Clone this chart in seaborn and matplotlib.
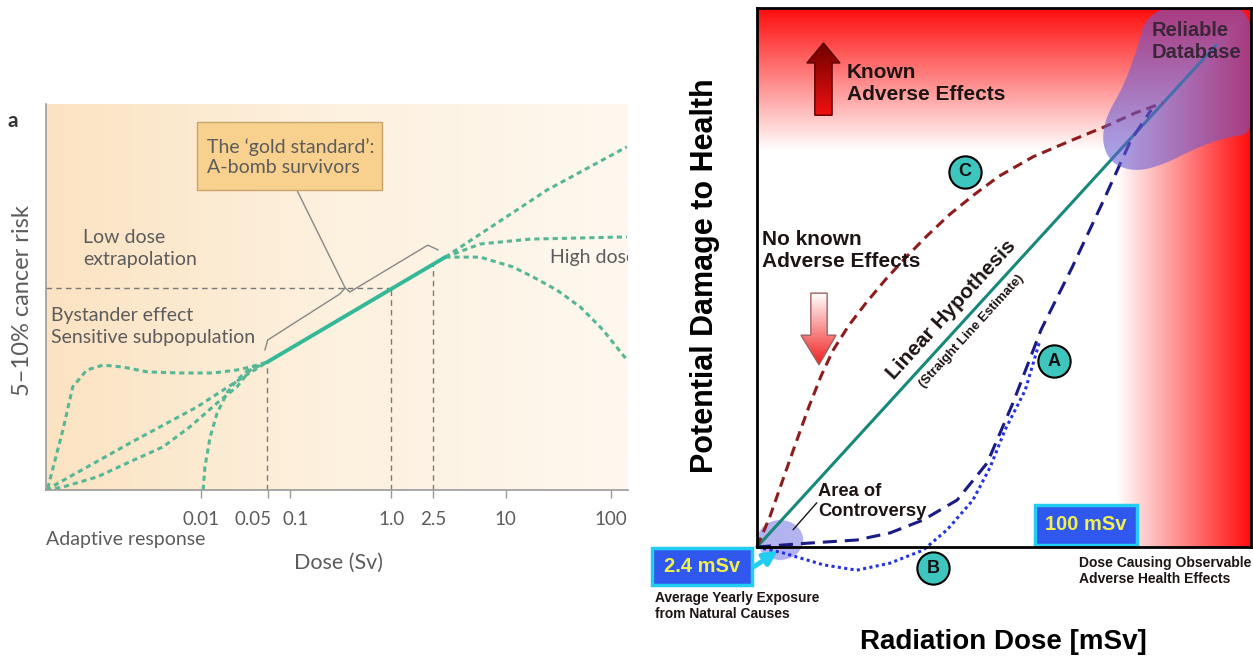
import numpy as np
import pandas as pd
import matplotlib
matplotlib.use("Agg")
import matplotlib.pyplot as plt
import seaborn as sns
from matplotlib import font_manager
from matplotlib.colors import LinearSegmentedColormap
from matplotlib.patches import Polygon, Rectangle, Ellipse
from matplotlib.transforms import ScaledTranslation

# ---------- panel a: cancer risk vs dose ----------
# x = position along the stretched dose axis (0-100), y = risk (0-100)
dose_tick_pos = [26.6, 38.1, 41.9, 59.3, 66.5, 79.0, 97.1]
dose_tick_labels = ["0.01", "0.05", "0.1", "1.0", "2.5", "10", "100"]

lnt_low_x = [0, 14.4, 25.9, 34.5, 38.0]
lnt_low_y = [0, 12.5, 22.1, 30.7, 34.1]
quad_x = [0, 2.9, 8.8, 14.4, 20.1, 24.7, 29.4, 32.8, 35.1, 38.0]
quad_y = [0, 0.8, 3.5, 7.5, 11.5, 16.8, 23.2, 27.5, 32.0, 34.1]
hump_x = [0.3, 2.9, 4.6, 7.0, 9.8, 13.2, 17.4, 23.0, 28.7, 32.8, 35.1, 38.0]
hump_y = [0.5, 16.0, 27.5, 32.0, 33.3, 32.8, 31.5, 31.2, 31.2, 32.0, 32.8, 34.1]
thresh_x = [27.0, 27.3, 28.2, 29.4, 31.1, 32.8, 35.1, 38.0]
thresh_y = [0, 6.1, 14.1, 20.5, 25.9, 29.3, 32.5, 34.1]
abomb_x = [38.0, 68.6]
abomb_y = [34.1, 62.1]
hi_lin_x = [68.6, 86.1, 99.8]
hi_lin_y = [62.1, 80.0, 91.5]
hi_flat_x = [68.6, 74.6, 83.2, 99.8]
hi_flat_y = [62.1, 65.6, 66.9, 67.5]
hi_down_x = [68.6, 74.6, 80.2, 83.7, 87.8, 91.8, 95.7, 99.8]
hi_down_y = [62.1, 62.1, 59.5, 56.8, 53.3, 48.8, 42.7, 34.7]
ref_x = [38.0, 59.3, 66.5]
ref_y = [34.1, 53.9, 60.5]

# ---------- panel b: damage vs radiation dose ----------
lnt_x = [0, 92.9]
lnt_y = [0, 93.1]
curve_c_x = [0, 2.6, 5.7, 8.1, 10.5, 13.0, 15.4, 18.5, 22.0, 26.0, 30.0, 34.5, 39.0,
             44.0, 49.0, 55.9, 63.8, 70.2, 76.5, 82.2]
curve_c_y = [0, 5.6, 13.7, 19.9, 26.0, 31.8, 36.5, 41.0, 45.2, 49.6, 53.6, 57.8, 61.7,
             65.4, 68.8, 72.4, 75.5, 77.9, 80.5, 82.4]
curve_a_x = [0, 10.1, 20.2, 26.9, 33.6, 40.5, 46.6, 51.8, 57.5, 63.8, 70.2, 75.7, 79.8]
curve_a_y = [0, 0.7, 1.3, 2.6, 5.0, 8.7, 15.6, 26.7, 40.3, 51.9, 64.4, 75.5, 81.1]
curve_b_x = [0, 5.3, 13.4, 20.2, 26.9, 33.6, 38.5, 43.7, 47.2, 50.2, 54.3, 57.3]
curve_b_y = [0, -1.1, -3.3, -4.3, -3.0, -0.6, 3.2, 8.7, 14.8, 21.7, 29.1, 38.4]
model_labels = ["C", "A", "B"]
model_label_x = [42.1, 60.2, 35.6]
model_label_y = [69.6, 34.5, -3.9]

sns.set_theme(style="white")
names = {f.name for f in font_manager.fontManager.ttflist}
LEFT_FONT = "Liberation Sans Narrow" if "Liberation Sans Narrow" in names else "Lato"
plt.rcParams["font.family"] = ["Liberation Sans", "DejaVu Sans"]

W, H = 1253, 661
fig = plt.figure(figsize=(W / 100, H / 100), dpi=100, facecolor="white")


def px_rect(left, top, right, bottom):
    return [left / W, (H - bottom) / H, (right - left) / W, (bottom - top) / H]


def chaikin(pts, n=3):
    pts = np.asarray(pts, float)
    for _ in range(n):
        p = np.vstack([pts, pts[:1]])
        q = 0.75 * p[:-1] + 0.25 * p[1:]
        r = 0.25 * p[:-1] + 0.75 * p[1:]
        pts = np.empty((2 * len(q), 2))
        pts[0::2], pts[1::2] = q, r
    return pts


def grad_arrow(ax, pts, c_top, c_bot, edge):
    pts = np.asarray(pts)
    poly = Polygon(pts, closed=True, facecolor="none", edgecolor=edge, lw=1, zorder=5)
    ax.add_patch(poly)
    cmap = LinearSegmentedColormap.from_list("g", [c_top, c_bot])
    im = ax.imshow(np.linspace(0, 1, 100)[:, None], extent=(pts[:, 0].min(), pts[:, 0].max(),
                   pts[:, 1].min(), pts[:, 1].max()), cmap=cmap, origin="upper",
                   aspect="auto", zorder=4)
    im.set_clip_path(poly)


# ================= LEFT PANEL =================
LTOP = 103  # beige area runs a bit above the data range
axl = fig.add_axes(px_rect(46, 490 - LTOP * 3.75, 628, 490))
grad = np.linspace(0, 1, 300)[None, :]
beige = LinearSegmentedColormap.from_list("beige", ["#fbe3c2", "#fdf1df", "#fef8ef"])
axl.imshow(grad, extent=(0, 100, 0, LTOP), cmap=beige, aspect="auto", zorder=0)

grey = "#5c5c5c"
axl.plot([0, ref_x[1]], [ref_y[1], ref_y[1]], color="#7a7a7a", lw=1, dashes=(4, 3), zorder=1)
for rx, ry in zip(ref_x, ref_y):
    axl.plot([rx, rx], [0, ry], color="#7a7a7a", lw=1, dashes=(4, 3), zorder=1)

left_curves = {
    "lnt": (lnt_low_x, lnt_low_y), "quad": (quad_x, quad_y), "hump": (hump_x, hump_y),
    "thresh": (thresh_x, thresh_y), "hi_lin": (hi_lin_x, hi_lin_y),
    "hi_flat": (hi_flat_x, hi_flat_y), "hi_down": (hi_down_x, hi_down_y),
}
left_df = pd.concat([pd.DataFrame({"dose": x, "risk": y, "model": k})
                     for k, (x, y) in left_curves.items()])
n0 = len(axl.lines)
sns.lineplot(data=left_df, x="dose", y="risk", units="model", estimator=None, sort=False,
             color="#55b796", linewidth=2.2, legend=False, ax=axl)
for ln in axl.lines[n0:]:
    ln.set_dashes((1.7, 1.3))
    ln.set_zorder(2)

sns.lineplot(x=abomb_x, y=abomb_y, color="#35b898", linewidth=2.8, sort=False, ax=axl)
axl.lines[-1].set_zorder(3)

# gold standard box, leader and bracket
axl.add_patch(Rectangle((25.9, 80.0), 31.8, 18.1, facecolor="#f8d18e", edgecolor="#c9a46a",
                        lw=1, zorder=4))
axl.text(27.6, 88.8, "The \u2018gold standard\u2019:\nA-bomb survivors", family=LEFT_FONT,
         fontsize=14, color=grey, va="center", ha="left", linespacing=1.25, zorder=5)
axl.plot([43.1, 51.4], [80.0, 53.9], color="#888888", lw=1, zorder=3)
axl.plot([37.6, 38.1, 50.5, 51.4, 52.2, 65.6, 67.4],
         [37.3, 40.0, 52.3, 53.9, 52.8, 65.3, 64.0], color="#888888", lw=1, zorder=3)

axl.text(6.4, 64.3, "Low dose\nextrapolation", family=LEFT_FONT, fontsize=14, color=grey,
         va="center", linespacing=1.35)
axl.text(0.9, 43.5, "Bystander effect\nSensitive subpopulation", family=LEFT_FONT, fontsize=14,
         color=grey, va="center", linespacing=1.35)
axl.text(86.6, 62.1, "High dose", family=LEFT_FONT, fontsize=14, color=grey, va="center",
         clip_on=True)

axl.set_xlim(0, 100)
axl.set_ylim(0, LTOP)
axl.set_xticks(dose_tick_pos)
axl.set_xticklabels(dose_tick_labels, family=LEFT_FONT, fontsize=13.5, color=grey)
axl.set_yticks([])
axl.tick_params(axis="x", direction="out", length=6, width=1, color="#9a9a9a", pad=9, bottom=True)
# the 0.05 / 0.1 labels sit close together: nudge them apart like the original
tl = axl.get_xticklabels()
tl[1].set_ha("right")
tl[1].set_transform(tl[1].get_transform() + ScaledTranslation(3 / 72, 0, fig.dpi_scale_trans))
tl[2].set_transform(tl[2].get_transform() + ScaledTranslation(4 / 72, 0, fig.dpi_scale_trans))
for s in ["top", "right"]:
    axl.spines[s].set_visible(False)
for s in ["left", "bottom"]:
    axl.spines[s].set_color("#9a9a9a")
    axl.spines[s].set_linewidth(1.2)
axl.set_xlabel("Dose (Sv)", family=LEFT_FONT, fontsize=15.5, color=grey)
axl.xaxis.set_label_coords(0.502, (490 - 563) / (LTOP * 3.75))
axl.xaxis.label.set_va("center")
axl.set_ylabel("5\u201310% cancer risk", family=LEFT_FONT, fontsize=17, color=grey)
axl.yaxis.set_label_coords(-0.041, (490 - 301) / (LTOP * 3.75))
axl.yaxis.label.set_va("center")
axl.text(0, -13.3, "Adaptive response", family=LEFT_FONT, fontsize=14, color=grey,
         va="center", ha="left", clip_on=False)
fig.text(13 / W, 1 - 121 / H, "a", fontsize=15, fontweight="bold", color="#333333",
         ha="center", va="center", family=LEFT_FONT)

# ================= RIGHT PANEL =================
axr = fig.add_axes(px_rect(757, 8, 1251, 547))
xs = np.linspace(0, 100, 400)
a_top = np.clip((xs - 73.7) / 26.3, 0, 1)
a_right = np.clip((xs - 72.9) / 27.1, 0, 1)
A = np.maximum(a_top[:, None], a_right[None, :])
bg = np.ones((400, 400, 3))
bg[..., 1] = 1 - 0.95 * A
bg[..., 2] = 1 - 0.95 * A
axr.imshow(bg, extent=(0, 100, 0, 100), origin="lower", aspect="auto", zorder=0)

# area of controversy blob
axr.add_patch(Ellipse((4.7, 1.3), 9.3, 7.4, facecolor="#b3b3ef", edgecolor="none", zorder=1,
                      clip_on=False))

right_curves = {"LNT": (lnt_x, lnt_y), "C": (curve_c_x, curve_c_y),
                "A": (curve_a_x, curve_a_y), "B": (curve_b_x, curve_b_y)}
right_df = pd.concat([pd.DataFrame({"dose": x, "damage": y, "model": k})
                      for k, (x, y) in right_curves.items()])
n0 = len(axr.lines)
sns.lineplot(data=right_df, x="dose", y="damage", hue="model", style="model",
             palette={"LNT": "#17887a", "C": "#8e1c1c", "A": "#1b1b86", "B": "#2333e0"},
             dashes={"LNT": "", "C": (3.3, 2.0), "A": (4.6, 2.6), "B": (1.0, 1.1)},
             estimator=None, sort=False, linewidth=2.2, legend=False, ax=axr)
for ln in axr.lines[n0:]:
    ln.set_clip_on(False)
    ln.set_zorder(2)

# reliable database blob
blob = chaikin([(78.9, 99.1), (76.9, 92.2), (74.1, 85.3), (70.6, 79.8), (69.8, 75.0),
                (71.7, 71.2), (76.5, 69.6), (82.2, 70.9), (89.3, 74.2), (95.5, 76.1),
                (101, 76.8), (101, 101), (87.7, 101)])
axr.add_patch(Polygon(blob, closed=True, facecolor=(0.41, 0.36, 0.83), alpha=0.58,
                      edgecolor="none", zorder=3))
axr.text(79.8, 93.7, "Reliable\nDatabase", fontsize=14.5, fontweight="bold", color="#3a2638",
         va="center", ha="left", linespacing=1.2, zorder=6)

sns.scatterplot(x=model_label_x, y=model_label_y, s=540, color="#3ec6be", edgecolor="black",
                linewidth=1.5, ax=axr, zorder=6, clip_on=False, legend=False)
for lab, x, y in zip(model_labels, model_label_x, model_label_y):
    axr.text(x, y, lab, fontsize=13, fontweight="bold", color="#111111", ha="center",
             va="center", zorder=7, clip_on=False)

# arrows
grad_arrow(axr, [(11.7, 80.1), (15.2, 80.1), (15.2, 89.8), (16.8, 89.8), (13.45, 93.5),
                 (10.1, 89.8), (11.7, 89.8)], "#6e0000", "#f01010", "#5a0000")
grad_arrow(axr, [(10.9, 47.1), (14.2, 47.1), (14.2, 39.3), (16.0, 39.3), (12.55, 33.8),
                 (8.9, 39.3), (10.9, 39.3)], "#ffffff", "#f02020", "#a06060")

dark = "#1e1414"
axr.text(18.2, 86.0, "Known\nAdverse Effects", fontsize=15, fontweight="bold", color=dark,
         va="center", linespacing=1.2, zorder=6)
axr.text(1.0, 55.1, "No known\nAdverse Effects", fontsize=15, fontweight="bold", color=dark,
         va="center", linespacing=1.2, zorder=6)
axr.text(39.3, 44.0, "Linear Hypothesis", fontsize=15, fontweight="bold", color=dark,
         rotation=45, transform_rotates_text=True, rotation_mode="anchor",
         ha="center", va="center", zorder=6)
axr.text(43.5, 40.1, "(Straight Line Estimate)", fontsize=9.5, fontweight="bold", color=dark,
         rotation=45, transform_rotates_text=True, rotation_mode="anchor",
         ha="center", va="center", zorder=6)
axr.text(12.3, 8.4, "Area of\nControversy", fontsize=13.2, fontweight="bold", color=dark,
         va="center", linespacing=1.2, zorder=6)
axr.plot([12.1, 7.3], [8.2, 3.2], color=dark, lw=1, zorder=6)

# value boxes
axr.add_patch(Rectangle((56.3, 0.4), 20.6, 7.4, facecolor="#3158ee", edgecolor="#22cdf2",
                        lw=2.5, zorder=6))
axr.text(66.6, 4.1, "100 mSv", fontsize=14.5, fontweight="bold", color="#f2f04a",
         ha="center", va="center", zorder=7)
axr.add_patch(Rectangle((-21.3, -7.1), 20.3, 6.9, facecolor="#3158ee", edgecolor="#22cdf2",
                        lw=2.5, zorder=6, clip_on=False))
axr.text(-11.1, -3.7, "2.4 mSv", fontsize=14.5, fontweight="bold", color="#f2f04a",
         ha="center", va="center", zorder=7, clip_on=False)
axr.annotate("", xy=(4.7, -0.4), xytext=(-1.0, -3.9),
             arrowprops=dict(arrowstyle="-|>", color="#22cdf2", lw=3.5, mutation_scale=20),
             zorder=7, annotation_clip=False)

axr.text(-20.6, -10.9, "Average Yearly Exposure\nfrom Natural Causes", fontsize=9.9,
         fontweight="bold", color=dark, va="center", linespacing=1.15, clip_on=False)
axr.text(65.2, -4.4, "Dose Causing Observable\nAdverse Health Effects", fontsize=10,
         fontweight="bold", color=dark, va="center", linespacing=1.15, clip_on=False)

axr.set_xlim(0, 100)
axr.set_ylim(0, 100)
axr.set_xticks([])
axr.set_yticks([])
for s in axr.spines.values():
    s.set_visible(True)
    s.set_color("black")
    s.set_linewidth(2)
    s.set_zorder(8)
axr.set_xlabel("Radiation Dose [mSv]", fontsize=20, fontweight="bold", color="black")
axr.xaxis.set_label_coords(0.498, -0.176)
axr.xaxis.label.set_va("center")
axr.set_ylabel("Potential Damage to Health", fontsize=22, fontweight="bold", color="black")
axr.yaxis.set_label_coords(-0.105, 0.503)
axr.yaxis.label.set_va("center")

fig.savefig("out.png", dpi=100, facecolor="white")
